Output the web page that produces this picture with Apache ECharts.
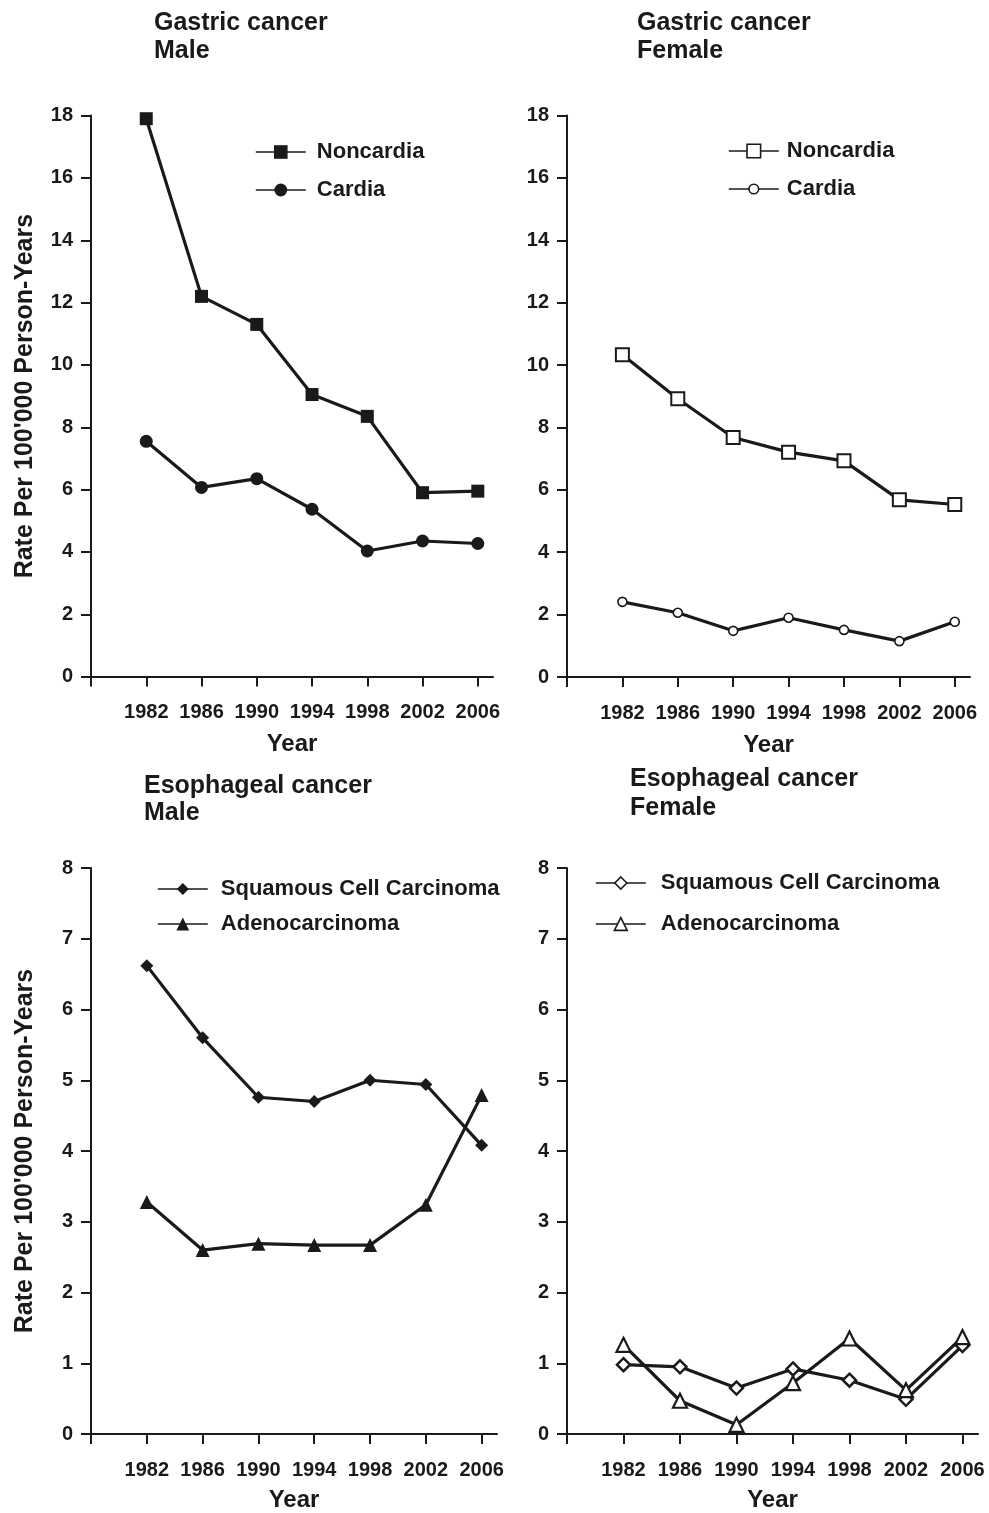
<!DOCTYPE html>
<html>
<head>
<meta charset="utf-8">
<script src="https://cdn.jsdelivr.net/npm/echarts@6/dist/echarts.min.js"></script>
<style>
html,body{margin:0;padding:0;background:#fff;}
#chart{width:989px;height:1513px;}
</style>
</head>
<body>
<div id="chart"></div>
<script>
// ---- data ----
var years = [1982, 1986, 1990, 1994, 1998, 2002, 2006];
var xTickValues = [1978, 1982, 1986, 1990, 1994, 1998, 2002, 2006];
var gastricYTicks = [0, 2, 4, 6, 8, 10, 12, 14, 16, 18];
var esoYTicks = [0, 1, 2, 3, 4, 5, 6, 7, 8];

var gastricMaleNoncardia = [17.9, 12.2, 11.3, 9.05, 8.35, 5.9, 5.95];
var gastricMaleCardia = [7.55, 6.07, 6.35, 5.37, 4.03, 4.35, 4.27];
var gastricFemaleNoncardia = [10.33, 8.92, 7.68, 7.21, 6.93, 5.68, 5.53];
var gastricFemaleCardia = [2.41, 2.06, 1.48, 1.9, 1.51, 1.15, 1.77];
var esoMaleSCC = [6.62, 5.6, 4.76, 4.7, 5.0, 4.94, 4.08];
var esoMaleAdeno = [3.28, 2.6, 2.69, 2.67, 2.67, 3.24, 4.79];
var esoFemaleSCC = [0.98, 0.95, 0.65, 0.92, 0.76, 0.49, 1.25];
var esoFemaleAdeno = [1.26, 0.47, 0.13, 0.72, 1.35, 0.62, 1.37];

var titles = ['Gastric cancer\nMale', 'Gastric cancer\nFemale', 'Esophageal cancer\nMale', 'Esophageal cancer\nFemale'];
var yName = "Rate Per 100'000 Person-Years";
var xName = 'Year';

// ---- styling ----
var INK = '#1a1a1a';
var FONT = '"Liberation Sans", Arial, Helvetica, sans-serif';

function pairs(vals) { return years.map(function (y, i) { return [y, vals[i]]; }); }

var grids = [
  {left: 91, top: 115.6, width: 402, height: 561},
  {left: 567, top: 115.6, width: 403, height: 561.4},
  {left: 91, top: 868, width: 406, height: 570},
  {left: 567, top: 868, width: 411, height: 570}
];

function xAxisFor(i, gap) {
  return {
    type: 'value', gridIndex: i, min: 1978, max: 2007.1,
    name: xName, nameLocation: 'middle', nameGap: gap,
    nameTextStyle: {fontFamily: FONT, fontWeight: 'bold', fontSize: 24, color: INK},
    axisLine: {show: true, onZero: false, lineStyle: {color: INK, width: 2}},
    axisTick: {show: true, length: 10, lineStyle: {color: INK, width: 2}, customValues: xTickValues},
    axisLabel: {fontFamily: FONT, fontWeight: 'bold', fontSize: 20, color: INK, margin: 26,
      customValues: years, formatter: function (v) { return String(v); }},
    splitLine: {show: false}
  };
}
function yAxisFor(i, max, interval, showName) {
  return {
    type: 'value', gridIndex: i, min: 0, max: max, interval: interval,
    name: showName ? yName : '', nameLocation: 'middle', nameGap: 53,
    nameTextStyle: {fontFamily: FONT, fontWeight: 'bold', fontSize: 25, color: INK},
    axisLine: {show: true, lineStyle: {color: INK, width: 2}},
    axisTick: {show: true, length: 10, lineStyle: {color: INK, width: 2}},
    axisLabel: {fontFamily: FONT, fontWeight: 'bold', fontSize: 20, color: INK, margin: 18},
    splitLine: {show: false}
  };
}

function lineSeries(name, idx, vals, symbol, size, hollow, bw) {
  return {
    type: 'line', name: name, xAxisIndex: idx, yAxisIndex: idx,
    data: pairs(vals), symbol: symbol, symbolSize: size, showSymbol: true,
    lineStyle: {color: INK, width: 3.2},
    itemStyle: hollow ? {color: '#fff', borderColor: INK, borderWidth: bw || 2} : {color: INK, borderWidth: 0},
    emphasis: {disabled: true}, animation: false, z: 3
  };
}

function legendFor(name, left, cy, iconH, hollow, textPad) {
  return {
    data: [name], left: left, top: cy - 11, padding: 0, orient: 'vertical',
    itemWidth: 50, itemHeight: iconH, selectedMode: false,
    formatter: function (n) { return n.split('|')[0]; },
    textStyle: {fontFamily: FONT, fontWeight: 'bold', fontSize: 22, color: INK, lineHeight: 22, padding: [0, 0, 0, textPad]},
    lineStyle: {color: INK, width: 1.6},
    itemStyle: hollow ? {color: '#fff', borderColor: INK, borderWidth: 1.6} : {color: INK, borderWidth: 0}
  };
}

function titleFor(text, left, top, lh) {
  return {
    text: text, left: left, top: top, padding: 0,
    textStyle: {fontFamily: FONT, fontWeight: 'bold', fontSize: 25, color: INK, lineHeight: lh}
  };
}

var option = {
  backgroundColor: '#fff',
  animation: false,
  title: [
    titleFor(titles[0], 154, 9, 28),
    titleFor(titles[1], 637, 9, 28.4),
    titleFor(titles[2], 144, 773, 27),
    titleFor(titles[3], 630, 765, 29)
  ],
  grid: grids,
  xAxis: [xAxisFor(0, 56), xAxisFor(1, 56), xAxisFor(2, 54), xAxisFor(3, 54)],
  yAxis: [
    yAxisFor(0, gastricYTicks[gastricYTicks.length - 1], gastricYTicks[1] - gastricYTicks[0], true),
    yAxisFor(1, gastricYTicks[gastricYTicks.length - 1], gastricYTicks[1] - gastricYTicks[0], false),
    yAxisFor(2, esoYTicks[esoYTicks.length - 1], esoYTicks[1] - esoYTicks[0], true),
    yAxisFor(3, esoYTicks[esoYTicks.length - 1], esoYTicks[1] - esoYTicks[0], false)
  ],
  legend: [
    legendFor('Noncardia|M', 255, 152, 17, false, 6),
    legendFor('Cardia|M', 255, 190, 16, false, 6),
    legendFor('Noncardia|F', 728, 151, 17, true, 3),
    legendFor('Cardia|F', 728, 189, 12, true, 3),
    legendFor('Squamous Cell Carcinoma|M', 157, 889, 15, false, 8),
    legendFor('Adenocarcinoma|M', 157, 924, 16, false, 8),
    legendFor('Squamous Cell Carcinoma|F', 595, 883, 15, true, 10),
    legendFor('Adenocarcinoma|F', 595, 924, 16, true, 10)
  ],
  series: [
    lineSeries('Noncardia|M', 0, gastricMaleNoncardia, 'rect', 13, false),
    lineSeries('Cardia|M', 0, gastricMaleCardia, 'circle', 13, false),
    lineSeries('Noncardia|F', 1, gastricFemaleNoncardia, 'rect', 13, true, 2),
    lineSeries('Cardia|F', 1, gastricFemaleCardia, 'circle', 9, true, 1.6),
    lineSeries('Squamous Cell Carcinoma|M', 2, esoMaleSCC, 'diamond', 13, false),
    lineSeries('Adenocarcinoma|M', 2, esoMaleAdeno, 'triangle', 14, false),
    lineSeries('Squamous Cell Carcinoma|F', 3, esoFemaleSCC, 'diamond', 13, true, 2.5),
    lineSeries('Adenocarcinoma|F', 3, esoFemaleAdeno, 'triangle', 14, true, 2.2)
  ]
};

var chart = echarts.init(document.getElementById('chart'), null, {renderer: 'canvas'});
chart.setOption(option);
</script>
</body>
</html>
